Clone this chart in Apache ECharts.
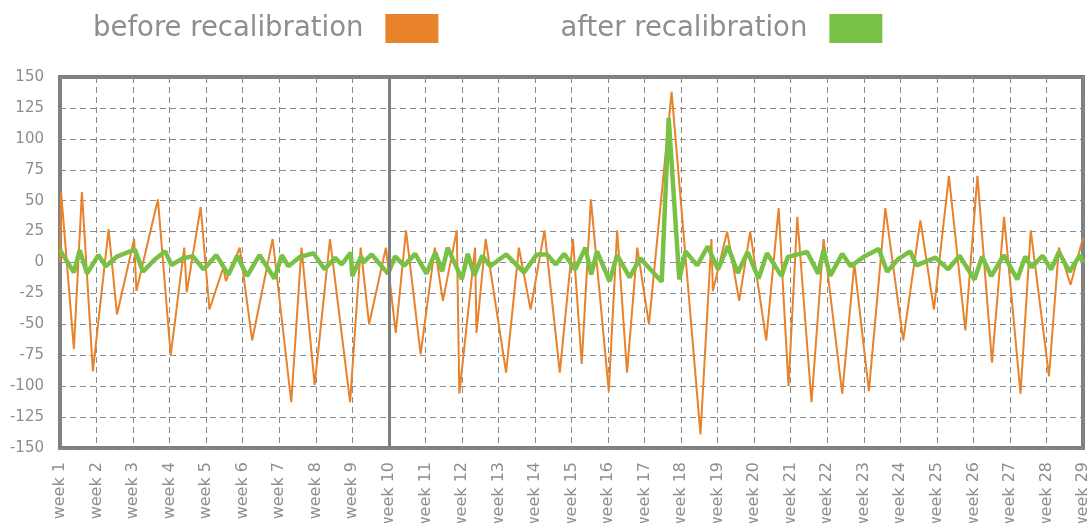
<!DOCTYPE html>
<html>
<head>
<meta charset="utf-8">
<script src="https://cdn.jsdelivr.net/npm/echarts@6/dist/echarts.min.js"></script>
<style>
html,body{margin:0;padding:0;background:#fff;}
#chart{width:1087px;height:523px;}
</style>
</head>
<body>
<div id="chart"></div>
<script>
// x positions are in weeks (week 1 .. week 29), y values are deviations
const weekLabels = Array.from({length: 29}, (_, i) => 'week ' + (i + 1));
const yTicks = [-150, -125, -100, -75, -50, -25, 0, 25, 50, 75, 100, 125, 150];
const seriesNames = ['before recalibration', 'after recalibration'];

const beforeX = [1.00,1.03,1.38,1.60,1.90,2.33,2.56,3.03,3.09,3.68,4.03,4.40,4.47,4.85,5.09,5.47,5.54,5.92,6.26,6.82,7.33,7.61,7.97,8.39,8.94,9.23,9.46,9.92,10.19,10.47,10.87,11.26,11.48,11.86,11.93,12.36,12.40,12.65,13.21,13.56,13.88,14.26,14.68,15.04,15.28,15.53,16.02,16.25,16.52,16.80,17.12,17.74,18.53,18.83,18.87,19.26,19.59,19.89,20.33,20.67,20.94,21.18,21.57,21.90,22.41,22.74,23.14,23.59,24.08,24.55,24.92,25.33,25.78,26.11,26.51,26.84,27.29,27.57,28.07,28.34,28.66,29.00];
const beforeY = [0,57,-70,57,-88,27,-42,19,-23,51,-75,12,-24,45,-38,-4,-15,12,-63,19,-113,12,-99,19,-113,12,-50,12,-57,26,-74,12,-31,26,-106,12,-57,19,-89,12,-38,26,-89,19,-82,51,-104,26,-89,12,-50,138,-139,19,-23,25,-31,25,-63,44,-100,37,-113,19,-106,-1,-104,44,-63,34,-38,70,-55,70,-81,37,-106,26,-92,12,-18,20];

const afterX = [1.00,1.38,1.54,1.74,2.05,2.25,2.57,3.05,3.27,3.59,3.88,4.05,4.37,4.64,4.93,5.28,5.61,5.85,6.12,6.46,6.87,7.07,7.25,7.57,7.94,8.24,8.53,8.71,8.96,9.00,9.24,9.30,9.53,9.98,10.17,10.42,10.72,11.03,11.27,11.46,11.61,12.00,12.16,12.34,12.56,12.77,13.21,13.70,14.05,14.33,14.57,14.80,15.10,15.38,15.54,15.70,16.04,16.25,16.59,16.88,17.47,17.66,17.95,18.12,18.44,18.73,19.01,19.28,19.55,19.82,20.12,20.35,20.75,20.92,21.45,21.75,21.90,22.08,22.41,22.64,23.00,23.41,23.64,23.95,24.27,24.44,24.96,25.31,25.62,26.03,26.24,26.49,26.83,27.20,27.42,27.59,27.89,28.13,28.34,28.63,28.92,29.00];
const afterY = [10,-8,10,-9,6,-3,5,10.5,-7.5,2.4,9,-2,3.5,5,-5.6,6,-10,5.5,-11,6,-13,6,-3,4.6,7.5,-5.5,3.8,-1.6,8,-11,5,0,6.5,-9,5,-2.5,7,-9,8,-7,12,-13.5,7,-10.5,5.5,-3,6.5,-8,6.5,6.5,-1.6,7,-5.6,12,-9.7,9,-15,6,-12,3.5,-15.5,117,-13.7,9,-2.3,13,-5.6,13.3,-8.5,8.5,-13,7.5,-11,4.5,8.5,-9,10,-10.8,7,-3,4.6,11,-7.5,3,9,-2.3,4,-5.5,5.5,-13.7,4.8,-11,6,-13.7,4.8,-4,5.5,-5.6,8.5,-7.5,6,0];

const pair = (xs, ys) => xs.map((x, i) => [x, ys[i]]);

const chart = echarts.init(document.getElementById('chart'), null, {renderer: 'canvas'});
const font = '"DejaVu Sans", "Open Sans", sans-serif';
chart.setOption({
  animation: false,
  backgroundColor: '#ffffff',
  legend: {
    left: 88, top: 9,
    align: 'right',
    itemWidth: 53, itemHeight: 29,
    itemGap: 122,
    icon: 'rect',
    data: seriesNames,
    textStyle: {color: '#8e8e8e', fontSize: 27.5, fontFamily: font, padding: [0, 17, 0, 0]}
  },
  grid: {
    left: 60, right: 4, top: 77, bottom: 75,
    outerBoundsMode: 'none', containLabel: false,
    show: true, borderColor: '#7f7f7f', borderWidth: 4
  },
  xAxis: {
    type: 'value', min: 1, max: 29, interval: 1,
    axisLine: {show: false}, axisTick: {show: false},
    splitLine: {show: true, lineStyle: {color: '#8a8a8a', type: [6, 4], width: 1}},
    axisLabel: {
      rotate: 90, margin: 14, color: '#8e8e8e', fontSize: 16, fontFamily: font,
      formatter: v => weekLabels[Math.round(v) - 1] || ''
    }
  },
  yAxis: {
    type: 'value', min: yTicks[0], max: yTicks[yTicks.length - 1], interval: 25,
    axisLine: {show: false}, axisTick: {show: false},
    splitLine: {show: true, lineStyle: {color: '#8a8a8a', type: [6, 4], width: 1}},
    axisLabel: {margin: 16, color: '#8e8e8e', fontSize: 15, fontFamily: font}
  },
  series: [
    {
      name: seriesNames[0], type: 'line', data: pair(beforeX, beforeY),
      symbol: 'none', z: 2,
      itemStyle: {color: '#E8822B'},
      lineStyle: {color: '#E8822B', width: 2},
      markLine: {
        silent: true, symbol: 'none', label: {show: false},
        lineStyle: {color: '#7f7f7f', type: 'solid', width: 3},
        data: [{xAxis: 10}]
      }
    },
    {
      name: seriesNames[1], type: 'line', data: pair(afterX, afterY),
      symbol: 'none', z: 3,
      itemStyle: {color: '#78C144'},
      lineStyle: {color: '#78C144', width: 4.5}
    }
  ]
});
</script>
</body>
</html>
